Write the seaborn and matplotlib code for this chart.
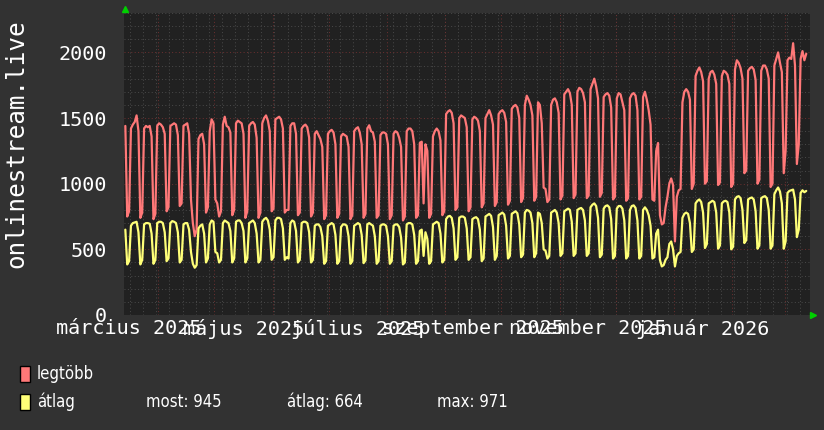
import matplotlib
matplotlib.use("Agg")
import matplotlib.pyplot as plt
from matplotlib.patches import Rectangle
import numpy as np
import pandas as pd
import seaborn as sns

# ---------------- data ----------------
START = "2025-03-14"   # first daily value (Friday)
series_labels = ["legtöbb", "átlag"]
y_label = "onlinestream.live"
x_tick_labels = ["március 2025", "május 2025", "július 2025",
                 "szeptember 2025", "november 2025", "január 2026"]
x_tick_months = ["2025-03", "2025-05", "2025-07", "2025-09", "2025-11", "2026-01"]
y_ticks = [0, 500, 1000, 1500, 2000]
stats_labels = ["most", "átlag", "max"]
stats_values = [945, 664, 971]

# daily maximum (one line per week, Mon..Sun)
legtobb = [
    1440, 750, 790,
    1420, 1450, 1470, 1520, 1400, 740, 780,
    1420, 1440, 1430, 1440, 1360, 730, 770,
    1440, 1460, 1450, 1430, 1380, 790, 820,
    1440, 1450, 1460, 1450, 1370, 830, 850,
    1440, 1450, 1460, 1380, 880, 700, 600,
    650, 1340, 1370, 1380, 1300, 780, 820,
    1400, 1490, 1460, 880, 850, 750, 790,
    1450, 1510, 1440, 1430, 1390, 760, 800,
    1460, 1480, 1470, 1460, 1380, 740, 790,
    1440, 1460, 1470, 1450, 1350, 740, 780,
    1460, 1500, 1520, 1480, 1400, 790, 810,
    1490, 1500, 1510, 1490, 1420, 780, 800,
    800, 1440, 1460, 1460, 1380, 760, 780,
    1420, 1440, 1450, 1430, 1350, 750, 780,
    1380, 1400, 1370, 1340, 1280, 730, 760,
    1380, 1400, 1410, 1390, 1300, 740, 770,
    1360, 1380, 1370, 1360, 1280, 730, 760,
    1400, 1420, 1430, 1390, 1300, 740, 770,
    1420, 1445, 1400, 1390, 1320, 740, 760,
    1370, 1390, 1390, 1380, 1300, 730, 760,
    1380, 1400, 1390, 1350, 1280, 720, 750,
    1400, 1420, 1420, 1400, 1300, 740, 760,
    1310, 1320, 850, 1300, 1250, 740, 770,
    1360, 1400, 1420, 1400, 1330, 760, 790,
    1530, 1550, 1560, 1540, 1460, 800, 820,
    1500, 1520, 1510, 1500, 1430, 790, 820,
    1490, 1510, 1500, 1480, 1400, 820, 850,
    1500, 1530, 1560, 1520, 1450, 830, 860,
    1530, 1550, 1560, 1540, 1470, 840, 870,
    1570, 1590, 1600, 1580, 1500, 860, 890,
    1600, 1670, 1640, 1600, 1520, 870, 900,
    1620, 1600, 1460, 970, 960, 860, 880,
    1600, 1640, 1650, 1620, 1540, 880, 910,
    1680, 1700, 1720, 1690, 1600, 890, 920,
    1700, 1730, 1720, 1690, 1620, 890, 910,
    1720, 1760, 1800, 1740, 1650, 900, 930,
    1660, 1680, 1690, 1670, 1580, 880, 900,
    1650, 1690, 1680, 1620, 1560, 870, 890,
    1650, 1680, 1690, 1670, 1560, 880, 900,
    1660, 1700, 1640, 1560, 1450, 880, 870,
    1250, 1310, 760, 690, 700, 820, 900,
    1000, 1040, 990, 560, 900, 950, 960,
    1620, 1700, 1720, 1700, 1640, 960, 1000,
    1820, 1860, 1885, 1850, 1780, 1000, 1020,
    1800, 1850, 1860, 1830, 1760, 990, 1010,
    1820, 1860, 1850, 1830, 1760, 975, 1000,
    1870, 1940, 1920, 1880, 1800, 1080, 1100,
    1860, 1880, 1890, 1870, 1790, 1000, 1030,
    1860, 1900, 1900, 1870, 1800, 975, 1000,
    1900, 1950, 2000, 1920, 1850, 1080, 1250,
    1940, 1960, 1950, 2070, 1900, 1150, 1300,
    1950, 2010, 1940, 1990,
]

# daily average (one line per week, Mon..Sun)
atlag = [
    650, 385, 410,
    680, 700, 705, 710, 630, 385, 420,
    690, 700, 700, 695, 620, 390, 420,
    700, 710, 710, 700, 630, 410, 430,
    700, 715, 710, 700, 630, 400, 420,
    690, 700, 700, 650, 480, 390, 360,
    380, 660, 680, 690, 620, 400, 430,
    690, 720, 710, 480, 470, 400, 420,
    700, 720, 710, 700, 640, 400, 430,
    710, 720, 720, 700, 640, 400, 430,
    700, 710, 720, 700, 620, 400, 420,
    710, 730, 740, 720, 650, 420, 440,
    720, 740, 740, 730, 660, 420, 440,
    430, 700, 720, 710, 640, 400, 420,
    700, 710, 710, 700, 630, 400, 420,
    680, 690, 690, 670, 600, 390, 410,
    680, 690, 700, 690, 610, 390, 410,
    670, 690, 690, 680, 600, 390, 410,
    680, 690, 700, 690, 610, 395, 415,
    690, 700, 690, 680, 600, 390, 410,
    680, 690, 690, 680, 600, 390, 410,
    680, 690, 690, 670, 590, 385, 400,
    690, 700, 700, 690, 610, 390, 410,
    640, 650, 450, 630, 580, 390, 410,
    690, 700, 710, 700, 620, 400, 420,
    730, 750, 755, 740, 660, 420, 440,
    740, 750, 750, 740, 660, 420, 440,
    730, 740, 745, 730, 650, 410, 430,
    750, 760, 770, 755, 670, 420, 450,
    760, 770, 780, 765, 680, 430, 450,
    770, 780, 790, 775, 690, 440, 460,
    780, 800, 795, 780, 700, 440, 470,
    780, 770, 700, 500, 490, 430, 450,
    780, 790, 800, 780, 700, 450, 470,
    790, 800, 810, 800, 710, 450, 470,
    800, 810, 815, 800, 720, 450, 470,
    820, 840, 850, 830, 740, 440, 460,
    810, 830, 835, 820, 730, 430, 450,
    810, 830, 830, 810, 720, 430, 450,
    800, 830, 835, 815, 720, 430, 450,
    800, 820, 800, 760, 680, 430, 440,
    620, 650, 420, 370, 380, 420, 440,
    540, 560, 500, 370, 450, 470, 480,
    740, 770, 780, 770, 700, 480, 500,
    850, 870, 880, 860, 780, 510, 540,
    850, 860, 870, 860, 780, 505, 530,
    850, 865, 870, 860, 780, 500, 520,
    880, 900, 905, 890, 800, 548, 570,
    880, 890, 895, 880, 790, 505, 530,
    890, 900, 905, 890, 800, 505, 530,
    920, 950, 971, 940, 850, 505, 560,
    930, 945, 950, 955, 880, 593, 650,
    930, 950, 935, 945,
]

# ---------------- style ----------------
FIG_BG = "#323232"
AX_BG = "#212121"
RED = "#ff7878"
YELLOW = "#ffff78"
MINOR_GRID = "#4a4a4a"
MAJOR_GRID = "#6e3030"
TEXT = "#ffffff"
GRID_LS = (0, (1, 2.5))

sns.set_style("dark", {"axes.facecolor": AX_BG, "figure.facecolor": FIG_BG})
plt.rcParams["font.family"] = ["DejaVu Sans Mono", "DejaVu Sans"]

dates = pd.date_range(START, periods=len(legtobb), freq="D") + pd.Timedelta(hours=12)
assert len(legtobb) == len(atlag)
df = pd.DataFrame({
    "date": list(dates) + list(dates),
    "value": legtobb + atlag,
    "series": [series_labels[0]] * len(legtobb) + [series_labels[1]] * len(atlag),
})

fig = plt.figure(figsize=(8.24, 4.30), dpi=100, facecolor=FIG_BG)
ax = fig.add_axes([124 / 824, 1 - 315 / 430, 686 / 824, 302 / 430])
ax.set_facecolor(AX_BG)

x0 = pd.Timestamp("2025-03-13 19:00")
x1 = pd.Timestamp("2026-03-14 12:00")

# grid: weekly (Mondays) minor, monthly major
for d in pd.date_range("2025-03-17", x1, freq="W-MON"):
    ax.axvline(d, color=MINOR_GRID, lw=0.7, ls=GRID_LS, zorder=0.5)
for d in pd.date_range("2025-04-01", x1, freq="MS"):
    ax.axvline(d, color=MAJOR_GRID, lw=0.7, ls=GRID_LS, zorder=0.6)
for v in np.arange(100, 2301, 100):
    is_major = v % 500 == 0
    ax.axhline(v, color=MAJOR_GRID if is_major else MINOR_GRID, lw=0.7,
               ls=GRID_LS, zorder=0.6 if is_major else 0.5)

sns.lineplot(data=df, x="date", y="value", hue="series",
             palette=[RED, YELLOW], linewidth=1.6, estimator=None,
             legend=False, ax=ax, zorder=3)

ax.set_xlim(x0, x1)
ax.set_ylim(0, 2300)
ax.set_xlabel("")
ax.set_ylabel("")

mids = []
for m in x_tick_months:
    s = pd.Timestamp(m + "-01")
    e = s + pd.offsets.MonthBegin(1)
    mids.append(s + (e - s) / 2)
ax.set_xticks(mids)
ax.set_xticklabels(x_tick_labels)
ax.set_yticks(y_ticks)
ax.set_yticklabels([str(v) for v in y_ticks])
ax.tick_params(axis="both", length=0, colors=TEXT, labelsize=14.5)
ax.tick_params(axis="y", pad=12)
ax.tick_params(axis="x", pad=3)
ax.grid(False)
for s in ax.spines.values():
    s.set_visible(False)

# green arrows at axis ends
ax.plot([0.002], [1.012], marker="^", color="#00d000", markersize=4.5,
        transform=ax.transAxes, clip_on=False, zorder=5)
ax.plot([1.005], [0.0], marker=">", color="#00d000", markersize=4.5,
        transform=ax.transAxes, clip_on=False, zorder=5)

# y label
fig.text(16 / 824, 1 - 144 / 430, y_label, rotation=90, ha="center", va="center",
         color=TEXT, fontsize=17.5)

# legend
rows_y = [374, 402]
leg_kw = dict(color=TEXT, fontsize=12, family="DejaVu Sans", stretch="condensed")
for lbl, col, yc in zip(series_labels, [RED, YELLOW], rows_y):
    fig.patches.append(Rectangle((20 / 824, 1 - (yc + 8) / 430), 10 / 824, 16 / 430,
                                 transform=fig.transFigure, facecolor=col,
                                 edgecolor="black", lw=1))
    fig.text(37 / 824, 1 - yc / 430, lbl, ha="left", va="center", **leg_kw)
for lbl, val, xx in zip(stats_labels, stats_values, [146, 287, 437]):
    fig.text(xx / 824, 1 - rows_y[1] / 430, f"{lbl}: {val}", ha="left", va="center",
             **leg_kw)

fig.savefig("out.png", dpi=100, facecolor=FIG_BG)
